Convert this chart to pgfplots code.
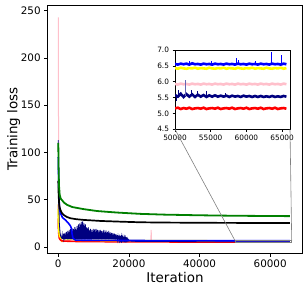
\documentclass[border=0pt]{standalone}
\usepackage{fontspec}
\setmainfont{DejaVu Sans}
\usepackage{pgfplots}
\usepackage{pgfplotstable}
\pgfplotsset{compat=1.18}
\definecolor{mplnavy}{RGB}{0,0,128}
\definecolor{mplgreen}{RGB}{0,128,0}
\definecolor{mplpink}{RGB}{255,192,203}
\definecolor{mplorange}{RGB}{255,165,0}
\definecolor{mplyellow}{RGB}{255,255,0}
\definecolor{mplblue}{RGB}{0,0,255}

\pgfplotstableread{
x      b    y    p    n    r
50000 6.56 6.43 5.93 5.58 5.16
50400 6.54 6.41 5.91 5.53 5.18
50800 6.57 6.44 5.94 5.62 5.14
51200 6.55 6.42 5.92 5.52 5.17
51600 6.57 6.41 5.93 5.61 5.15
52000 6.54 6.43 5.91 5.53 5.18
52400 6.58 6.42 5.94 5.60 5.14
52800 6.55 6.44 5.92 5.52 5.16
53200 6.56 6.41 5.93 5.59 5.17
53600 6.54 6.43 5.91 5.53 5.15
54000 6.57 6.42 5.94 5.58 5.18
54400 6.55 6.41 5.92 5.52 5.14
54800 6.56 6.44 5.93 5.57 5.16
55200 6.54 6.42 5.91 5.53 5.17
55600 6.57 6.41 5.94 5.57 5.15
56000 6.55 6.43 5.92 5.53 5.18
56400 6.56 6.42 5.93 5.56 5.14
56800 6.54 6.44 5.91 5.53 5.16
57200 6.57 6.41 5.94 5.56 5.17
57600 6.55 6.43 5.92 5.52 5.15
58000 6.56 6.42 5.93 5.56 5.18
58400 6.54 6.41 5.91 5.53 5.14
58800 6.57 6.44 5.94 5.55 5.16
59200 6.55 6.42 5.92 5.52 5.17
59600 6.56 6.41 5.93 5.56 5.15
60000 6.54 6.43 5.91 5.53 5.18
60400 6.57 6.42 5.94 5.55 5.14
60800 6.55 6.44 5.92 5.52 5.16
61200 6.56 6.41 5.93 5.55 5.17
61600 6.54 6.43 5.91 5.52 5.15
62000 6.57 6.42 5.94 5.55 5.18
62400 6.55 6.41 5.92 5.52 5.14
62800 6.56 6.44 5.93 5.54 5.16
63200 6.54 6.42 5.91 5.52 5.17
63600 6.57 6.41 5.94 5.55 5.15
64000 6.55 6.43 5.92 5.52 5.18
64400 6.56 6.42 5.93 5.54 5.14
64800 6.54 6.44 5.91 5.52 5.16
65200 6.57 6.41 5.94 5.55 5.17
65600 6.55 6.43 5.92 5.53 5.15
}\insetdata

\begin{document}
\begin{tikzpicture}
\path[use as bounding box] (-47.7bp,-38bp) rectangle (260.3bp,253bp);
\begin{axis}[
  at={(0,0)}, anchor=south west, scale only axis,
  width=254.6bp, height=248bp,
  xmin=-3000, xmax=69100, ymin=-6.4, ymax=256,
  xtick={0,20000,40000,60000}, ytick={0,50,100,150,200,250},
  scaled x ticks=false,
  /pgf/number format/assume math mode=true,
  /pgf/number format/1000 sep={},
  tick pos=left, tick align=outside,
  major tick length=3.5bp,
  axis line style={line width=0.8bp},
  every tick/.style={black, line width=0.8bp},
  ticklabel style={font=\fontsize{10.4}{12}\selectfont},
  label style={font=\fontsize{13.5}{16}\selectfont},
  xlabel={Iteration}, ylabel={Training loss},
  xlabel style={at={(rel axis cs:0.5,0)}, anchor=center, yshift=-24.5bp},
  ylabel style={at={(rel axis cs:0,0.5)}, anchor=center, yshift=34bp},
  clip=true,
]
\addplot[mplpink, line width=1bp] coordinates {(0,243)(50,150)(100,80)(200,30)(400,12)(700,8)(1000,7)(3000,6.6)(10000,6.3)(20000,6.1)(26200,6.0)(26300,18)(26400,6.0)(40000,5.95)(65600,5.92)};
\addplot[mplorange, line width=1.5bp] coordinates {(0,45)(100,22)(300,12)(600,8)(1000,6)(1200,5.5)};
\addplot[red, line width=1.6bp] coordinates {(0,30)(100,15)(300,9)(700,7)(1500,6.2)(5000,5.8)(15000,5.5)(30000,5.3)(50000,5.18)(65600,5.16)};
\addplot[mplyellow, line width=1.6bp] coordinates {(0,40)(100,20)(300,12)(700,9.5)(1500,9)(3000,8.5)(4150,8.8)(4800,7.2)(7000,7.0)(15000,6.8)(30000,6.6)(50000,6.45)(65600,6.42)};
\addplot[mplnavy, line width=0.8bp] coordinates {
(0,113)(100,70)(200,40)(300,25)(500,15)(700,11)(900,9.5)
(1000,10)(1100,13)(1200,8.5)(1300,12)(1400,8)(1500,14)(1600,8.5)(1700,11)(1800,8)(1900,15)
(2000,8.2)(2100,13)(2200,8)(2300,16)(2400,8.5)(2500,14)(2600,8)(2700,17)(2800,8.3)(2900,15)
(3000,8)(3100,18)(3200,8.5)(3300,16)(3400,8)(3500,19)(3600,8.2)(3700,17)(3800,8)(3900,20)
(4000,8.4)(4100,16)(4200,8)(4300,19)(4400,8.3)(4500,18)(4600,8)(4700,21)(4800,8.5)(4900,19)
(5000,8)(5100,17)(5200,8.2)(5300,22)(5400,8)(5500,20)(5600,8.4)(5700,24)(5800,8)(5900,21)
(6000,8.3)(6100,25)(6200,8)(6300,23)(6400,8.5)(6500,26.5)(6600,8)(6700,24)(6800,8.2)(6900,27)
(7000,8)(7100,23)(7200,8.4)(7300,25)(7400,8)(7500,22)(7600,8.3)(7700,24)(7800,8)(7900,21)
(8000,8.5)(8100,20)(8200,8)(8300,19)(8400,8.3)(8500,21)(8600,8)(8700,18)(8800,8.4)(8900,17)
(9000,8)(9100,19)(9200,8.2)(9300,16)(9400,8)(9500,18)(9600,8.5)(9700,15)(9800,8)(9900,19)
(10000,8.3)(10100,17)(10200,8)(10300,18.5)(10400,8.2)(10500,16)(10600,8)(10700,19)(10800,8.4)(10900,17)
(11000,8)(11100,18)(11200,8.3)(11300,15.5)(11400,8)(11500,17.5)(11600,8.2)(11700,16)(11800,8)(11900,18)
(12000,8.5)(12100,16.5)(12200,8)(12300,17)(12400,8.2)(12500,15)(12600,8)(12700,16.5)(12800,8.3)(12900,18)
(13000,8)(13100,15)(13200,8.2)(13300,16)(13400,8)(13500,17.5)(13600,8.4)(13700,14.5)(13800,8)(13900,16)
(14000,8.2)(14100,15)(14200,8)(14300,17)(14400,8.3)(14500,14)(14600,8)(14700,15.5)(14800,8.2)(14900,13.5)
(15000,8)(15100,15)(15200,8.1)(15300,13)(15400,8)(15500,14.5)(15600,8.2)(15700,13)(15800,7.9)(15900,14)
(16000,8)(16100,12.5)(16200,7.9)(16300,13.5)(16400,8)(16500,12)(16600,7.8)(16700,12.5)(16800,7.9)(16900,11)
(17000,7.7)(17100,12)(17200,7.8)(17300,10.5)(17400,7.6)(17500,11.5)(17600,7.7)(17700,10)(17800,7.5)(17900,11)
(18000,7.5)(18100,9.5)(18200,7.4)(18300,10.5)(18400,7.3)(18500,9)(18600,7.2)(18700,10)(18800,7.1)(18900,8.8)
(19000,7)(19100,9.5)(19200,6.9)(19300,8.5)(19400,6.8)(19500,8.7)(19600,6.7)(19700,8)(19800,6.6)(19900,7.6)
(20100,6.4)(20300,7)(20600,6.2)(21000,6.0)(22000,5.9)(25000,5.8)(30000,5.7)(40000,5.6)(50000,5.58)(65600,5.55)};
\addplot[mplblue, line width=1.6bp] coordinates {(0,95)(100,70)(200,52)(350,40)(570,36)(1200,31)(2000,28.6)(2900,25)(3400,22.5)(3700,20)(3900,14)(4150,9.5)(4800,7.3)(7000,7.1)(15000,6.9)(30000,6.7)(50000,6.58)(65600,6.55)};
\addplot[black, line width=1.7bp] coordinates {(0,70)(100,55)(250,45)(500,40)(1000,36)(1500,33.9)(2400,31.8)(3400,30.4)(5000,29.4)(7200,28.6)(12000,27.5)(18000,26.7)(23300,26.1)(30000,25.8)(45000,25.5)(65600,25.3)};
\addplot[mplgreen, line width=1.8bp] coordinates {(0,110)(80,85)(200,65)(400,55)(700,51)(1000,49.8)(1600,47)(2500,44.5)(4000,42.2)(7200,40)(11000,38)(16600,36.4)(23300,35)(30000,34.2)(40000,33.5)(50000,33)(65600,32.6)};
\draw[gray, line width=0.6bp] (axis cs:50000,4.5) rectangle (axis cs:66100,7.0);
\coordinate (r1) at (axis cs:50000,7.0);
\coordinate (r2) at (axis cs:66100,7.0);
\end{axis}
\begin{axis}[
  at={(127.3bp,123.7bp)}, anchor=south west, scale only axis,
  width=115bp, height=79.3bp,
  xmin=50000, xmax=66100, ymin=4.5, ymax=7.0,
  xtick={50000,55000,60000,65000}, ytick={4.5,5.0,5.5,6.0,6.5,7.0},
  scaled x ticks=false,
  /pgf/number format/assume math mode=true,
  /pgf/number format/1000 sep={},
  yticklabel style={/pgf/number format/.cd, fixed, fixed zerofill, precision=1},
  tick pos=left, tick align=outside,
  major tick length=2.5bp,
  axis line style={line width=0.6bp},
  every tick/.style={black, line width=0.6bp},
  ticklabel style={font=\fontsize{7.4}{9}\selectfont},
  axis background/.style={fill=white},
  clip=true,
]
\addplot[mplyellow, line width=2.6bp] table[x=x, y=y] {\insetdata};
\addplot[mplblue, line width=2.6bp] table[x=x, y=b] {\insetdata};
\addplot[mplpink, line width=2.6bp] table[x=x, y=p] {\insetdata};
\addplot[mplnavy, line width=2.6bp] table[x=x, y=n] {\insetdata};
\addplot[red, line width=2.6bp] table[x=x, y=r] {\insetdata};
\addplot[mplblue, line width=0.4bp] coordinates {(52000,6.56)(52000,6.65)};
\addplot[mplblue, line width=0.4bp] coordinates {(55000,6.56)(55000,6.66)};
\addplot[mplblue, line width=0.4bp] coordinates {(58500,6.56)(58500,6.76)};
\addplot[mplblue, line width=0.4bp] coordinates {(58900,6.56)(58900,6.70)};
\addplot[mplblue, line width=0.4bp] coordinates {(61200,6.56)(61200,6.66)};
\addplot[mplblue, line width=0.4bp] coordinates {(63500,6.56)(63500,6.93)};
\addplot[mplblue, line width=0.4bp] coordinates {(64800,6.56)(64800,6.84)};
\addplot[mplnavy, line width=0.4bp] coordinates {(50500,5.56)(50500,5.75)};
\addplot[mplnavy!60!white, line width=0.4bp] coordinates {(51400,5.56)(51400,6.05)};
\addplot[mplnavy, line width=0.4bp] coordinates {(52200,5.56)(52200,5.74)};
\addplot[mplnavy, line width=0.4bp] coordinates {(53100,5.56)(53100,5.72)};
\addplot[mplnavy, line width=0.4bp] coordinates {(54300,5.56)(54300,5.70)};
\addplot[mplnavy, line width=0.4bp] coordinates {(57000,5.54)(57000,5.66)};
\addplot[mplnavy, line width=0.4bp] coordinates {(50200,5.56)(50200,5.40)};
\coordinate (i1) at (rel axis cs:0,0);
\coordinate (i2) at (rel axis cs:1,0);
\end{axis}
\draw[gray, line width=0.6bp] (i1) -- (r1) (i2) -- (r2);
\end{tikzpicture}
\end{document}
